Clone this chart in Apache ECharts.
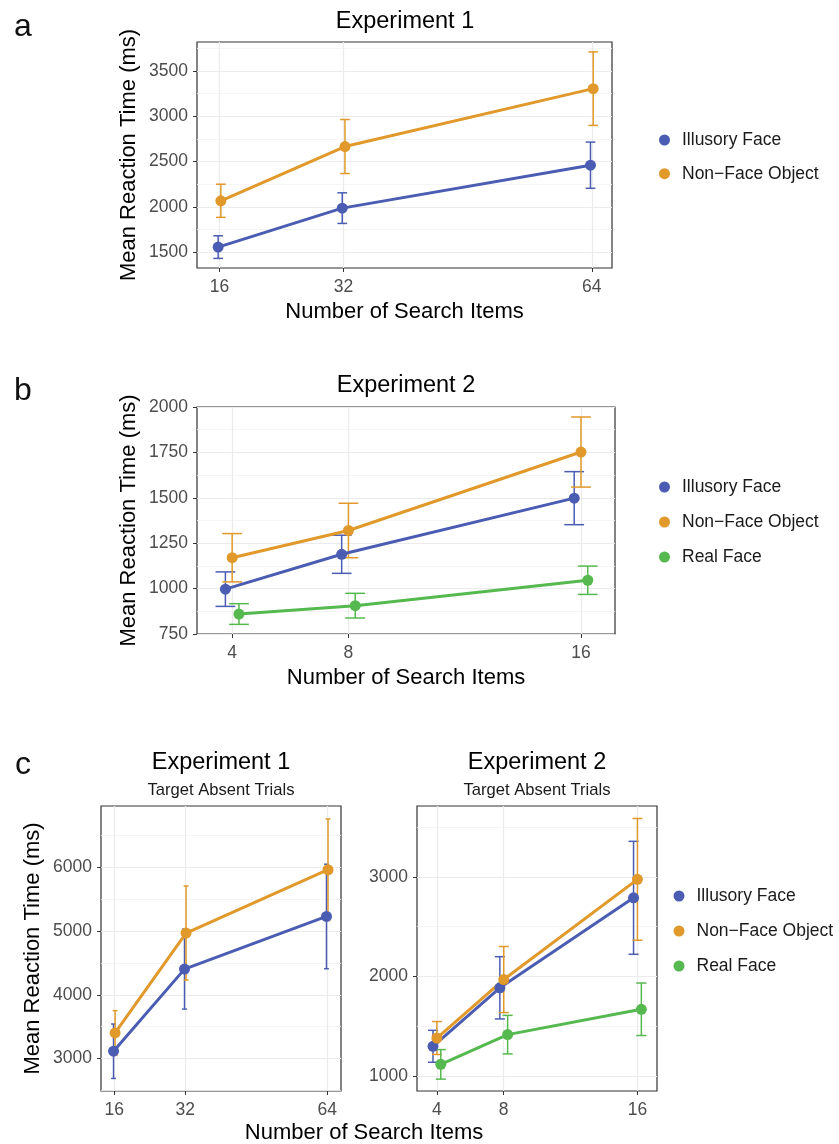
<!DOCTYPE html>
<html>
<head>
<meta charset="utf-8">
<title>Search times</title>
<script src="https://cdn.jsdelivr.net/npm/echarts@6/dist/echarts.min.js"></script>
<style>
  html, body { margin: 0; padding: 0; background: #fff; }
  #chart { width: 839px; height: 1144px; }
</style>
</head>
<body>
<div id="chart"></div>
<script>
// number of search items
const exp1Items = [16, 32, 64];
const exp2Items = [4, 8, 16];

// y tick labels
const aTicks = [1500, 2000, 2500, 3000, 3500];
const bTicks = [750, 1000, 1250, 1500, 1750, 2000];
const c1Ticks = [3000, 4000, 5000, 6000];
const c2Ticks = [1000, 2000, 3000];

const seriesNames = ['Illusory Face', 'Non\u2212Face Object', 'Real Face'];
const colors = ['#4b5db3', '#e0992a', '#55b94f'];

// a: experiment 1 (mean RT, error half-width)
const aIllusoryMean = [1555, 1985, 2459];
const aIllusoryErr = [125, 169, 255];
const aObjectMean = [2066, 2665, 3304];
const aObjectErr = [183, 298, 406];

// b: experiment 2
const bIllusoryMean = [997, 1189, 1498];
const bIllusoryErr = [95, 105, 146];
const bObjectMean = [1170, 1320, 1752];
const bObjectErr = [133, 150, 193];
const bRealMean = [860, 906, 1046];
const bRealErr = [57, 68, 78];

// c: target absent trials
const c1IllusoryMean = [3115, 4403, 5229];
const c1IllusoryErr = [427, 627, 820];
const c1ObjectMean = [3402, 4969, 5962];
const c1ObjectErr = [350, 738, 796];

const c2IllusoryMean = [1301, 1887, 2789];
const c2IllusoryErr = [160, 312, 566];
const c2ObjectMean = [1384, 1970, 2974];
const c2ObjectErr = [165, 331, 610];
const c2RealMean = [1120, 1418, 1672];
const c2RealErr = [148, 193, 263];

const FONT = '"Liberation Sans", Arial, sans-serif';
const Y_NAME = 'Mean Reaction Time (ms)';
const X_NAME = 'Number of Search Items';

const panels = [
  { box: { left: 197, top: 42, width: 415, height: 226 }, xMin: 13.1, xMax: 66.6,
    yMin: 1324, yMax: 3819, ySplit: 5, xTicks: exp1Items, yTicks: aTicks, cap: 1.25,
    xName: X_NAME, yName: Y_NAME,
    groups: [[aIllusoryMean, aIllusoryErr], [aObjectMean, aObjectErr]] },
  { box: { left: 197, top: 407, width: 418, height: 227 }, xMin: 2.79, xMax: 17.17,
    yMin: 750, yMax: 2000, yInterval: 250, xTicks: exp2Items, yTicks: bTicks, cap: 0.68,
    xName: X_NAME, yName: Y_NAME,
    groups: [[bIllusoryMean, bIllusoryErr], [bObjectMean, bObjectErr], [bRealMean, bRealErr]] },
  { box: { left: 101, top: 806, width: 240, height: 285 }, xMin: 13.0, xMax: 67.1,
    yMin: 2491, yMax: 6962, ySplit: 4, xTicks: exp1Items, yTicks: c1Ticks, cap: 1.1,
    xName: '', yName: Y_NAME,
    groups: [[c1IllusoryMean, c1IllusoryErr], [c1ObjectMean, c1ObjectErr]] },
  { box: { left: 417, top: 806, width: 240, height: 285 }, xMin: 2.81, xMax: 17.17,
    yMin: 853, yMax: 3709, ySplit: 3, xTicks: exp2Items, yTicks: c2Ticks, cap: 0.6,
    xName: '', yName: '',
    groups: [[c2IllusoryMean, c2IllusoryErr], [c2ObjectMean, c2ObjectErr], [c2RealMean, c2RealErr]] }
];

function errorBarItem(cap, color) {
  return function (params, api) {
    const x = api.value(0);
    const top = api.coord([x, api.value(2)]);
    const bot = api.coord([x, api.value(1)]);
    const half = api.coord([x + cap / 2, api.value(1)])[0] - bot[0];
    const style = { stroke: color, lineWidth: 1.5, fill: null };
    return {
      type: 'group',
      children: [
        { type: 'line', shape: { x1: top[0], y1: top[1], x2: bot[0], y2: bot[1] }, style: style },
        { type: 'line', shape: { x1: top[0] - half, y1: top[1], x2: top[0] + half, y2: top[1] }, style: style },
        { type: 'line', shape: { x1: bot[0] - half, y1: bot[1], x2: bot[0] + half, y2: bot[1] }, style: style }
      ]
    };
  };
}

const errSeries = [];
const lineSeries = [];
panels.forEach((p, i) => {
  const n = p.groups.length;
  p.groups.forEach(([mean, err], g) => {
    // position_dodge(width = 0.7)
    const off = (g - (n - 1) / 2) * 0.7 / n;
    errSeries.push({
      type: 'custom',
      xAxisIndex: i, yAxisIndex: i,
      renderItem: errorBarItem(p.cap, colors[g]),
      encode: { x: 0, y: [1, 2] },
      data: p.xTicks.map((x, k) => [x + off, mean[k] - err[k], mean[k] + err[k]]),
      silent: true
    });
    lineSeries.push({
      type: 'line',
      name: seriesNames[g],
      xAxisIndex: i, yAxisIndex: i,
      data: p.xTicks.map((x, k) => [x + off, mean[k]]),
      symbol: 'circle',
      symbolSize: 11,
      itemStyle: { color: colors[g] },
      lineStyle: { color: colors[g], width: 3 },
      emphasis: { disabled: true }
    });
  });
});

const tickLabel = { fontSize: 17.5, color: '#4d4d4d', fontFamily: FONT, formatter: v => String(v) };
const axisNameStyle = { fontSize: 22, color: '#000', fontFamily: FONT };

const option = {
  animation: false,
  backgroundColor: '#fff',
  textStyle: { fontFamily: FONT },
  grid: panels.map(p => Object.assign({
    show: true, borderColor: '#333', borderWidth: 1.2, backgroundColor: '#fff',
    containLabel: false, outerBoundsMode: 'none'
  }, p.box)),
  xAxis: panels.map((p, i) => ({
    gridIndex: i, type: 'value', min: p.xMin, max: p.xMax,
    name: p.xName, nameLocation: 'middle', nameGap: 33, nameTextStyle: axisNameStyle,
    axisLine: { show: false },
    axisTick: { show: true, length: 4, customValues: p.xTicks, lineStyle: { color: '#333', width: 1 } },
    axisLabel: Object.assign({ customValues: p.xTicks, margin: 10 }, tickLabel),
    splitLine: { show: true, lineStyle: { color: '#ebebeb', width: 1.2 } },
    minorSplitLine: { show: false }
  })),
  yAxis: panels.map((p, i) => ({
    gridIndex: i, type: 'value', min: p.yMin, max: p.yMax,
    splitNumber: p.ySplit, interval: p.yInterval,
    name: p.yName, nameLocation: 'middle', nameGap: 57, nameTextStyle: axisNameStyle,
    axisLine: { show: false },
    axisTick: { show: true, length: 4, customValues: p.yTicks, lineStyle: { color: '#333', width: 1 } },
    axisLabel: Object.assign({ customValues: p.yTicks, margin: 9 }, tickLabel),
    splitLine: { show: true, lineStyle: { color: '#ebebeb', width: 1.2 } },
    minorTick: { show: false, splitNumber: 2 },
    minorSplitLine: { show: true, lineStyle: { color: '#f3f3f3', width: 0.8 } }
  })),
  legend: [
    { data: seriesNames.slice(0, 2), left: 654, top: 126, itemGap: 15.7 },
    { data: seriesNames, left: 654, top: 473, itemGap: 17 },
    { data: seriesNames, left: 668.5, top: 882, itemGap: 17 }
  ].map(l => Object.assign({
    orient: 'vertical', icon: 'circle', itemWidth: 25, itemHeight: 11,
    selectedMode: false,
    textStyle: { fontSize: 17.5, color: '#1a1a1a', fontFamily: FONT }
  }, l)),
  graphic: [
    { type: 'text', x: 23, y: 27, style: { text: 'a', font: '32px ' + FONT, fill: '#111', align: 'center', verticalAlign: 'middle' } },
    { type: 'text', x: 23, y: 391, style: { text: 'b', font: '32px ' + FONT, fill: '#111', align: 'center', verticalAlign: 'middle' } },
    { type: 'text', x: 23, y: 765, style: { text: 'c', font: '32px ' + FONT, fill: '#111', align: 'center', verticalAlign: 'middle' } },
    { type: 'text', x: 405, y: 22, style: { text: 'Experiment 1', font: '23.5px ' + FONT, fill: '#000', align: 'center', verticalAlign: 'middle' } },
    { type: 'text', x: 406, y: 386, style: { text: 'Experiment 2', font: '23.5px ' + FONT, fill: '#000', align: 'center', verticalAlign: 'middle' } },
    { type: 'text', x: 221, y: 763, style: { text: 'Experiment 1', font: '23.5px ' + FONT, fill: '#000', align: 'center', verticalAlign: 'middle' } },
    { type: 'text', x: 537, y: 763, style: { text: 'Experiment 2', font: '23.5px ' + FONT, fill: '#000', align: 'center', verticalAlign: 'middle' } },
    { type: 'text', x: 221, y: 790, style: { text: 'Target Absent Trials', font: '16.6px ' + FONT, fill: '#1a1a1a', align: 'center', verticalAlign: 'middle' } },
    { type: 'text', x: 537, y: 790, style: { text: 'Target Absent Trials', font: '16.6px ' + FONT, fill: '#1a1a1a', align: 'center', verticalAlign: 'middle' } },
    { type: 'text', x: 364, y: 1133, style: { text: X_NAME, font: '22px ' + FONT, fill: '#000', align: 'center', verticalAlign: 'middle' } }
  ],
  series: errSeries.concat(lineSeries)
};

const chart = echarts.init(document.getElementById('chart'), null, { renderer: 'canvas' });
chart.setOption(option);
window.addEventListener('resize', () => chart.resize());
</script>
</body>
</html>
